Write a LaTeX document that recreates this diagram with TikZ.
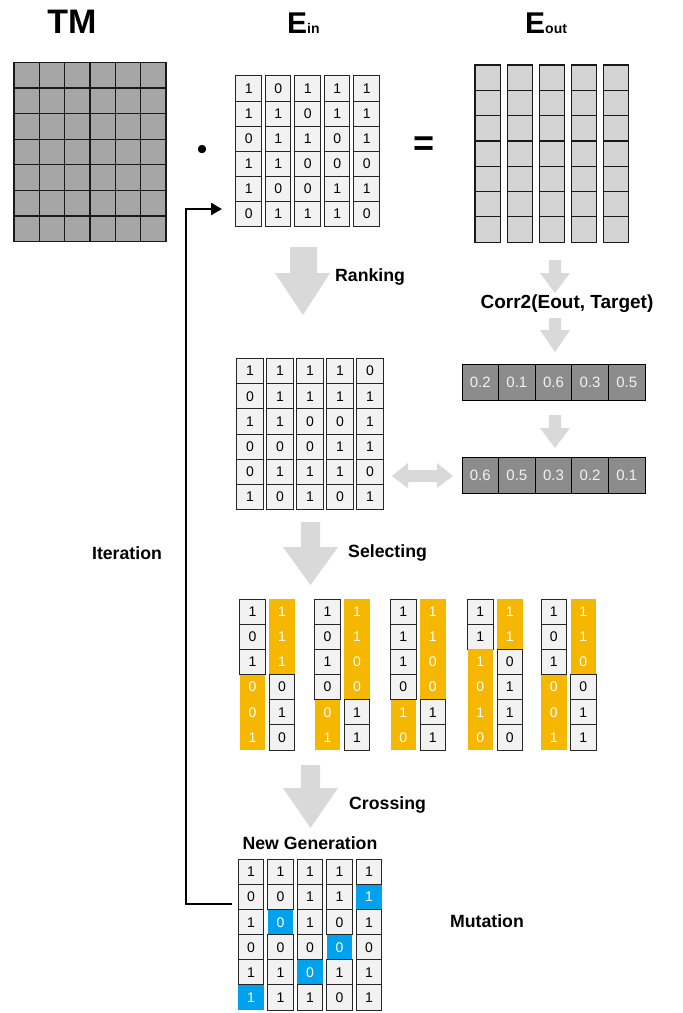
\documentclass[tikz,border=0pt]{standalone}
\usepackage{fontspec}
\setmainfont{Liberation Sans}
\usetikzlibrary{arrows.meta,calc}

\definecolor{tmgray}{HTML}{A6A6A6}
\definecolor{outgray}{HTML}{D4D4D4}
\definecolor{cellfill}{HTML}{F2F2F2}
\definecolor{corrgray}{HTML}{8C8C8C}
\definecolor{corrtext}{HTML}{F2F2F2}
\definecolor{arrowgray}{HTML}{D9D9D9}
\definecolor{selorange}{HTML}{F5B700}
\definecolor{mutblue}{HTML}{00A2EE}

\tikzset{
  cell/.style={draw=black!85, line width=1pt, fill=cellfill,
    minimum width=25.5pt, minimum height=25.1pt, inner sep=0pt, outer sep=0pt,
    font=\fontsize{14}{14}\selectfont},
  tmcell/.style={draw=black!90, line width=1.2pt, fill=tmgray,
    minimum width=25.33pt, minimum height=25.6pt, inner sep=0pt, outer sep=0pt},
  outcell/.style={draw=black!90, line width=1.2pt, fill=outgray,
    minimum width=25.5pt, minimum height=25.3pt, inner sep=0pt, outer sep=0pt},
  corrcell/.style={draw=black, line width=1pt, fill=corrgray, text=corrtext,
    minimum width=36.6pt, minimum height=36pt, inner sep=0pt, outer sep=0pt,
    font=\fontsize{15}{15}\selectfont},
  selgray/.style={cell, minimum height=25.17pt},
  selorg/.style={cell, minimum height=25.17pt, draw=none, fill=selorange, text=white},
  mutcell/.style={cell, draw=none, fill=mutblue, text=white},
  blockarrow/.style={fill=arrowgray, draw=none},
  steplabel/.style={font=\fontsize{17.7}{20}\selectfont\bfseries, inner sep=0pt},
  titlefont/.style={font=\fontsize{30}{30}\selectfont\bfseries, inner sep=0pt},
  iterline/.style={line width=2.6pt, -{Triangle[length=11pt,width=12pt]}}
}

\begin{document}
\begin{tikzpicture}[x=1pt,y=-1pt]
\path[use as bounding box, fill=white] (0,0) rectangle (683,1013);

% ---- titles ----
\node[anchor=base, font=\fontsize{34}{34}\selectfont\bfseries, inner sep=0pt] (tm-title) at (72,33) {TM};
\node[anchor=base west, titlefont] (ein-title) at (287,33) {E\fontsize{14}{14}\selectfont in};
\node[anchor=base west, titlefont] (eout-title) at (525,33) {E\fontsize{14}{14}\selectfont out};

% ---- transmission matrix ----
\foreach \r in {0,...,6}
  \foreach \c in {0,...,5}
    \node[tmcell] (tm-\r-\c) at ({26.67+25.33*\c},{75.1+25.6*\r}) {};

% ---- operators ----
\node[font=\fontsize{30}{30}\selectfont, inner sep=0pt] (dot) at (202,152) {•};
\node[font=\fontsize{36}{36}\selectfont\bfseries, inner sep=0pt] (eq) at (424,146.5) {=};

% ---- input patterns E_in ----
\foreach \row [count=\r from 0] in {{1,0,1,1,1},{1,1,0,1,1},{0,1,1,0,1},{1,1,0,0,0},{1,0,0,1,1},{0,1,1,1,0}}
  \foreach \v [count=\c from 0] in \row
    \node[cell] (ein-\r-\c) at ({248.7+29.5*\c},{88.5+25.1*\r}) {\v};

% ---- output fields E_out ----
\foreach \r in {0,...,6}
  \foreach \c/\x in {0/487.7,1/520,2/552,3/584,4/616}
    \node[outcell] (eout-\r-\c) at (\x,{77.7+25.3*\r}) {};

% ---- correlation scores ----
\foreach \v [count=\c from 0] in {0.2,0.1,0.6,0.3,0.5}
  \node[corrcell] (corr-\c) at ({480.3+36.6*\c},382) {\v};
\foreach \v [count=\c from 0] in {0.6,0.5,0.3,0.2,0.1}
  \node[corrcell] (sorted-\c) at ({480.3+36.6*\c},475) {\v};

% ---- ranked patterns ----
\foreach \row [count=\r from 0] in {{1,1,1,1,0},{0,1,1,1,1},{1,1,0,0,1},{0,0,0,1,1},{0,1,1,1,0},{1,0,1,0,1}}
  \foreach \v [count=\c from 0] in \row
    \node[cell, minimum width=26.5pt, minimum height=25.2pt] (rank-\r-\c) at ({250+30*\c},{371+25.2*\r}) {\v};

% ---- selected parent pairs (first k genes of A kept, rest swapped) ----
\foreach \px/\k/\A/\B [count=\p] in {
    252.5/3/{1,0,1,0,0,1}/{1,1,1,0,1,0},
    327.5/4/{1,0,1,0,0,1}/{1,1,0,0,1,1},
    403.3/4/{1,1,1,0,1,0}/{1,1,0,0,1,1},
    480.3/2/{1,1,1,0,1,0}/{1,1,0,1,1,0},
    553.8/3/{1,0,1,0,0,1}/{1,1,0,0,1,1}} {
  \foreach \v [count=\r from 0] in \A {
    \ifnum\r<\k \def\sty{selgray}\else\def\sty{selorg}\fi
    \node[\sty] (pa\p-\r) at (\px,{611.6+25.17*\r}) {\v};
  }
  \foreach \v [count=\r from 0] in \B {
    \ifnum\r<\k \def\sty{selorg}\else\def\sty{selgray}\fi
    \node[\sty] (pb\p-\r) at ({\px+29.5},{611.6+25.17*\r}) {\v};
  }
}

% ---- new generation with mutated genes ----
\foreach \row/\bc [count=\r from 0] in {{1,1,1,1,1}/-1,{0,0,1,1,1}/4,{1,0,1,0,1}/1,{0,0,0,0,0}/3,{1,1,0,1,1}/2,{1,1,1,0,1}/0}
  \foreach \v [count=\c from 0] in \row {
    \ifnum\c=\bc \def\sty{mutcell}\else\def\sty{cell}\fi
    \node[\sty] (ng-\r-\c) at ({251+29.5*\c},{872+25.1*\r}) {\v};
  }

% ---- process arrows ----
\path[blockarrow] (290,247) -- (317,247) -- (317,273) -- (330,273) -- (303,315) -- (275,273) -- (290,273) -- cycle;
\path[blockarrow] (301,522) -- (320,522) -- (320,547) -- (338,547) -- (310.5,585) -- (283,547) -- (301,547) -- cycle;
\path[blockarrow] (301,765) -- (320,765) -- (320,788) -- (338,788) -- (310.5,828) -- (283,788) -- (301,788) -- cycle;
\foreach \t/\h/\b in {260/273/293, 318/330/352, 415/428/448}
  \path[blockarrow] (549,\t) -- (561,\t) -- (561,\h) -- (570,\h) -- (555,\b) -- (540,\h) -- (549,\h) -- cycle;
\path[blockarrow] (392,476) -- (408,463) -- (408,470) -- (437,470) -- (437,463) -- (453,476)
  -- (437,488) -- (437,482) -- (408,482) -- (408,488) -- cycle;

% ---- step labels ----
\node[steplabel, anchor=west] (lbl-rank) at (335,277) {Ranking};
\node[steplabel, font=\fontsize{19}{20}\selectfont\bfseries] (lbl-corr) at (567,304) {Corr2(Eout, Target)};
\node[steplabel, anchor=west] (lbl-sel) at (348,553) {Selecting};
\node[steplabel, anchor=west] (lbl-cross) at (349,805) {Crossing};
\node[steplabel] (lbl-iter) at (127,553) {Iteration};
\node[steplabel] (lbl-new) at (310,843) {New Generation};
\node[steplabel] (lbl-mut) at (487,921) {Mutation};

% ---- iteration loop back to E_in ----
\coordinate (iter-start) at (232,904);
\coordinate (iter-end) at (222,209);
\draw[iterline] (iter-start) -| ($(iter-end)+(-36,0)$) -- (iter-end);
\end{tikzpicture}
\end{document}
